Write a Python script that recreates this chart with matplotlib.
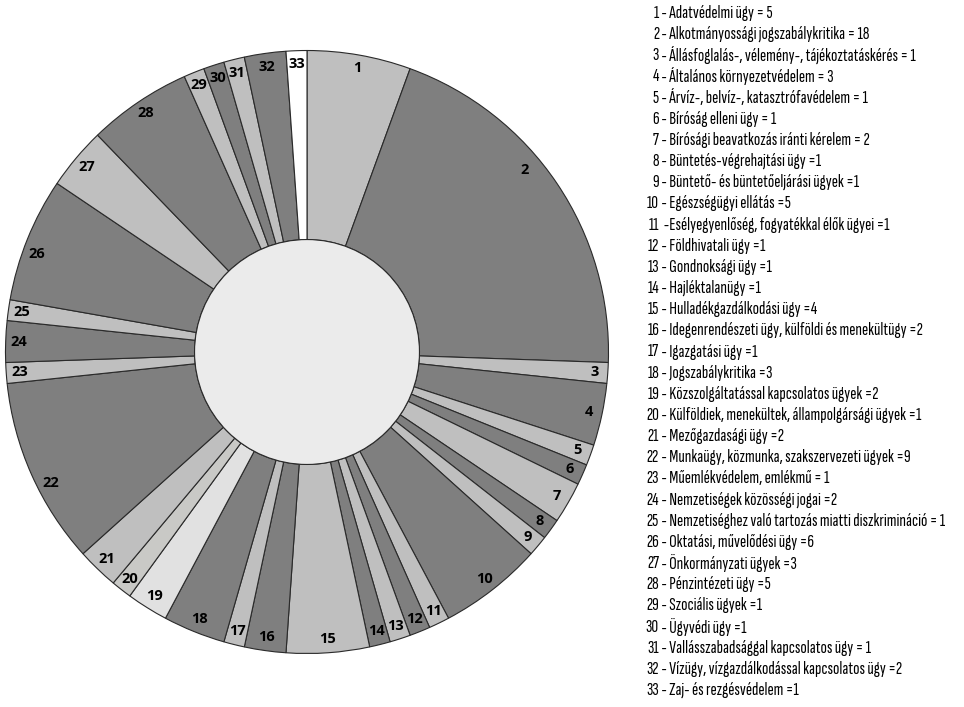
import numpy as np
import matplotlib.pyplot as plt
from matplotlib.patches import Circle

categories = [
    "Adatvédelmi ügy", "Alkotmányossági jogszabálykritika",
    "Állásfoglalás-, vélemény-, tájékoztatáskérés", "Általános környezetvédelem",
    "Árvíz-, belvíz-, katasztrófavédelem", "Bíróság elleni ügy",
    "Bírósági beavatkozás iránti kérelem", "Büntetés-végrehajtási ügy",
    "Büntető- és büntetőeljárási ügyek", "Egészségügyi ellátás",
    "Esélyegyenlőség, fogyatékkal élők ügyei", "Földhivatali ügy",
    "Gondnoksági ügy", "Hajléktalanügy", "Hulladékgazdálkodási ügy",
    "Idegenrendészeti ügy, külföldi és menekültügy", "Igazgatási ügy",
    "Jogszabálykritika", "Közszolgáltatással kapcsolatos ügyek",
    "Külföldiek, menekültek, állampolgársági ügyek", "Mezőgazdasági ügy",
    "Munkaügy, közmunka, szakszervezeti ügyek", "Műemlékvédelem, emlékmű",
    "Nemzetiségek közösségi jogai", "Nemzetiséghez való tartozás miatti diszkrimináció",
    "Oktatási, művelődési ügy", "Önkormányzati ügyek", "Pénzintézeti ügy",
    "Szociális ügyek", "Ügyvédi ügy", "Vallásszabadsággal kapcsolatos ügy",
    "Vízügy, vízgazdálkodással kapcsolatos ügy", "Zaj- és rezgésvédelem",
]
values = [5, 18, 1, 3, 1, 1, 2, 1, 1, 5, 1, 1, 1, 1, 4, 2, 1, 3, 2, 1, 2, 9,
          1, 2, 1, 6, 3, 5, 1, 1, 1, 2, 1]

DARK, LIGHT = "#7f7f7f", "#bfbfbf"
colors = [LIGHT if i % 2 == 0 else DARK for i in range(len(values))]
colors[18] = "#e1e1e1"
colors[19] = "#c9c9c6"
colors[32] = "#ffffff"

LEGEND_FONT = ["Sofia Sans Extra Condensed", "Fira Sans Extra Condensed", "DejaVu Sans"]
LABEL_FONT = ["Open Sans", "DejaVu Sans"]

W, H = 964, 707
fig = plt.figure(figsize=(W / 100, H / 100), dpi=100)

cx, cy, R = 307, 352, 303
ax = fig.add_axes([(cx - R) / W, (H - cy - R) / H, 2 * R / W, 2 * R / H])
inner = 0.373
ax.pie(values, colors=colors, startangle=90, counterclock=False, radius=1,
       wedgeprops=dict(width=1 - inner, edgecolor="#2a2a2a", linewidth=0.8))
ax.add_patch(Circle((0, 0), inner, facecolor="#ebebeb", edgecolor="#2a2a2a",
                    linewidth=0.8, zorder=5))
ax.set_xlim(-1.005, 1.005)
ax.set_ylim(-1.005, 1.005)
ax.set_aspect("equal")
ax.axis("off")

# slice numbers near the outer rim (big slice 2 has its label pulled back a bit)
nudge = {1: (-6, 0.94), 21: (-3, 0.955), 25: (-2, 0.955)}
total = float(sum(values))
start = 0.0
for i, v in enumerate(values):
    dang, r = nudge.get(i, (0, 0.955))
    mid = np.radians((start + v / 2) / total * 360 + dang)
    start += v
    ax.text(r * np.sin(mid), r * np.cos(mid), str(i + 1), ha="center", va="center",
            fontsize=10.5, fontweight="bold", family=LABEL_FONT, zorder=6)

# legend list on the right
y0, step = 13, (690 - 13) / 32
for i, (name, v) in enumerate(zip(categories, values)):
    y = 1 - (y0 + i * step) / H
    sep = "  -" if i == 10 else " - "
    eq = " = " if i < 7 or i in (22, 24, 30) else " ="
    fig.text(659 / W, y, str(i + 1), ha="right", va="center",
             fontsize=13.5, family=LEGEND_FONT)
    fig.text(659 / W, y, f"{sep}{name}{eq}{v}", ha="left", va="center",
             fontsize=13.5, family=LEGEND_FONT)

fig.savefig("out.png", dpi=100)
